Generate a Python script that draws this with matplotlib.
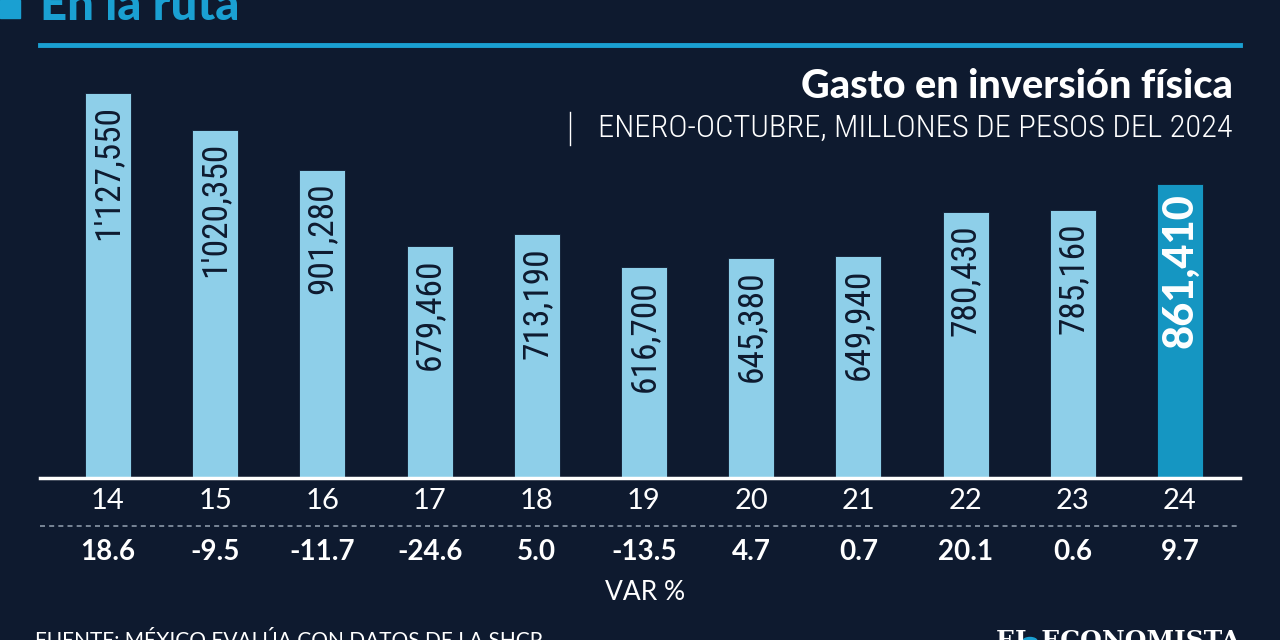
import matplotlib.pyplot as plt

# data
years = ['14', '15', '16', '17', '18', '19', '20', '21', '22', '23', '24']
gasto = [1127550, 1020350, 901280, 679460, 713190, 616700, 645380, 649940, 780430, 785160, 861410]
gasto_labels = ["1'127,550", "1'020,350", "901,280", "679,460", "713,190", "616,700",
                "645,380", "649,940", "780,430", "785,160", "861,410"]
var_pct = ['18.6', '-9.5', '-11.7', '-24.6', '5.0', '-13.5', '4.7', '0.7', '20.1', '0.6', '9.7']

BG = '#0e1a2f'
LIGHT = '#8ecfe9'
HIGH = '#1596c2'
CYAN = '#1aa0d2'
NAVY = '#0e1a2f'

narrow = ['Roboto Condensed', 'DejaVu Sans']
subfont = ['Roboto Condensed', 'DejaVu Sans']
main = ['Lato', 'DejaVu Sans']

W, H = 1280, 640
fig = plt.figure(figsize=(12.8, 6.4), dpi=100, facecolor=BG)

# axes: left 40px, right 1240px, baseline at y=478px, top at 60px
ax = fig.add_axes([40 / W, (H - 478) / H, 1200 / W, 418 / H])
ax.set_facecolor(BG)
x = list(range(len(years)))
colors = [LIGHT] * (len(years) - 1) + [HIGH]
ax.bar(x, gasto, width=0.43, color=colors, edgecolor=NAVY, linewidth=0.6, zorder=2)
ax.set_xlim(-0.634, 10.56)
ax.set_ylim(0, 418 * 2928.7)

for s in ['top', 'right', 'left']:
    ax.spines[s].set_visible(False)
ax.spines['bottom'].set_color('white')
ax.spines['bottom'].set_linewidth(2.5)
ax.set_yticks([])
ax.set_xticks(x)
ax.set_xticklabels(years, fontsize=21, color='white', family=main, fontweight='normal')
ax.tick_params(axis='x', length=0, pad=7)

for i, (v, lab) in enumerate(zip(gasto, gasto_labels)):
    last = i == len(gasto) - 1
    ax.annotate(lab, (i, v), xytext=(0, -7 if last else -9), textcoords='offset points',
                rotation=90, ha='center', va='top', fontsize=30 if last else 25.5,
                color='white' if last else NAVY,
                family=main if last else narrow,
                fontweight='black' if last else 'normal', zorder=3)

# var % row
for i, p in enumerate(var_pct):
    ax.annotate(p, (i, 0), xycoords=('data', 'axes fraction'), xytext=(0, -53),
                textcoords='offset points', ha='center', va='center',
                fontsize=20, color='white', family=main, fontweight='bold')

# dashed separator
fig.add_artist(plt.Line2D([40 / W, 1240 / W], [(H - 526) / H] * 2, color='#8a97a8',
                          linewidth=1.2, linestyle=(0, (3, 2.5))))
fig.text(645 / W, (H - 592) / H, 'VAR %', ha='center', va='center', fontsize=19,
         color='white', family=main, fontweight='normal')

# header
fig.add_artist(plt.Line2D([40 / W, 1240 / W], [(H - 45) / H] * 2, color=CYAN, linewidth=3.5))
fig.patches.append(plt.Rectangle((0, (H - 18) / H), 20 / W, 18 / H, transform=fig.transFigure,
                                 color=CYAN, figure=fig))
fig.text(40 / W, (H - 20) / H, 'En la ruta', ha='left', va='baseline', fontsize=34,
         color=CYAN, family=main, fontweight='black')
fig.text(1233 / W, (H - 87) / H, 'Gasto en inversión física', ha='right', va='center',
         fontsize=28.5, color='white', family=main, fontweight='black')
fig.text(1233 / W, (H - 128) / H, 'ENERO-OCTUBRE, MILLONES DE PESOS DEL 2024', ha='right',
         va='center', fontsize=23.4, color='white', family=subfont, fontweight='light')
fig.add_artist(plt.Line2D([570 / W] * 2, [(H - 145) / H, (H - 112) / H], color='white',
                          linewidth=1))

# footer (cut off at bottom edge like the reference)
fig.text(35 / W, (H - 631) / H, 'FUENTE: MÉXICO EVALÚA CON DATOS DE LA SHCP', ha='left',
         va='top', fontsize=15, color='white', family=main)
fig.text(1240 / W, (H - 629) / H, 'EL ECONOMISTA', ha='right', va='top', fontsize=18,
         color='white', family='DejaVu Serif', fontweight='bold')
fig.patches.append(plt.Circle((1030 / W, (H - 641) / H), 7 / W, transform=fig.transFigure,
                              color=CYAN, figure=fig))

fig.savefig('out.png', dpi=100, facecolor=BG)
